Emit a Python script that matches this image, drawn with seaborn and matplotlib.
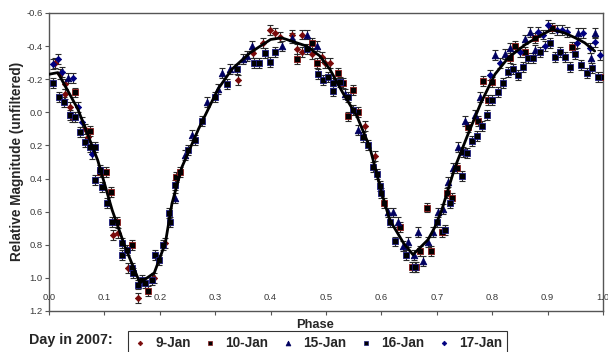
import numpy as np
import pandas as pd
import matplotlib
matplotlib.use("Agg")
import matplotlib.pyplot as plt
from matplotlib.lines import Line2D
import seaborn as sns

# ---------------- data (phase, relative magnitude) ----------------
jan09 = [(0.011, -0.30), (0.020, -0.23), (0.029, -0.17), (0.029, -0.11), (0.038, -0.03),
         (0.041, 0.03), (0.065, 0.10), (0.070, 0.15), (0.116, 0.74), (0.125, 0.73),
         (0.143, 0.94), (0.160, 1.12), (0.190, 1.00), (0.209, 0.79), (0.341, -0.195),
         (0.368, -0.36), (0.386, -0.42), (0.399, -0.50), (0.408, -0.48), (0.417, -0.455),
         (0.438, -0.47), (0.448, -0.38), (0.457, -0.47), (0.457, -0.365), (0.475, -0.35),
         (0.493, -0.335), (0.498, -0.30), (0.507, -0.30), (0.570, 0.085), (0.588, 0.265)]

jan10 = [(0.047, -0.12), (0.074, 0.115), (0.092, 0.36), (0.103, 0.36), (0.112, 0.48),
         (0.123, 0.66), (0.150, 0.80), (0.179, 1.08), (0.229, 0.39), (0.236, 0.36),
         (0.448, -0.32), (0.475, -0.42), (0.484, -0.30), (0.522, -0.24), (0.531, -0.18),
         (0.540, 0.025), (0.549, -0.135), (0.558, 0.00), (0.605, 0.545), (0.634, 0.69),
         (0.655, 0.935), (0.662, 0.935), (0.670, 0.84), (0.682, 0.575), (0.690, 0.84),
         (0.709, 0.72), (0.718, 0.485), (0.727, 0.515), (0.736, 0.335), (0.756, 0.09),
         (0.775, 0.055), (0.784, -0.19), (0.793, -0.075), (0.800, -0.185), (0.832, -0.33),
         (0.841, -0.40), (0.860, -0.365), (0.877, -0.45), (0.908, -0.51), (0.944, -0.395),
         (1.000, -0.215)]

jan15 = [(0.034, -0.21), (0.227, 0.52), (0.245, 0.255), (0.258, 0.135), (0.285, -0.06),
         (0.305, -0.14), (0.312, -0.24), (0.327, -0.26), (0.350, -0.32), (0.357, -0.34),
         (0.366, -0.40), (0.420, -0.40), (0.438, -0.45), (0.466, -0.47), (0.484, -0.40),
         (0.534, -0.11), (0.558, 0.105), (0.612, 0.605), (0.621, 0.605), (0.630, 0.665),
         (0.639, 0.81), (0.648, 0.785), (0.659, 0.86), (0.666, 0.725), (0.675, 0.90),
         (0.684, 0.785), (0.693, 0.72), (0.702, 0.605), (0.711, 0.585), (0.720, 0.42),
         (0.729, 0.335), (0.738, 0.21), (0.751, 0.055), (0.769, 0.015), (0.778, -0.095),
         (0.805, -0.345), (0.823, -0.355), (0.832, -0.39), (0.860, -0.44), (0.868, -0.485),
         (0.877, -0.375), (0.955, -0.48), (0.978, -0.33), (0.986, -0.48)]

jan16 = [(0.007, -0.18), (0.018, -0.09), (0.027, -0.06), (0.038, 0.015), (0.047, 0.03),
         (0.056, 0.12), (0.065, 0.18), (0.074, 0.21), (0.083, 0.21), (0.083, 0.41),
         (0.092, 0.35), (0.096, 0.45), (0.105, 0.55), (0.114, 0.66), (0.132, 0.79),
         (0.132, 0.86), (0.141, 0.83), (0.150, 0.94), (0.152, 0.97), (0.160, 1.04),
         (0.168, 1.01), (0.173, 1.03), (0.186, 1.01), (0.191, 0.86), (0.199, 0.89),
         (0.206, 0.80), (0.217, 0.61), (0.218, 0.66), (0.227, 0.44), (0.251, 0.225),
         (0.264, 0.165), (0.276, 0.055), (0.300, -0.095), (0.321, -0.17), (0.339, -0.26),
         (0.370, -0.30), (0.379, -0.30), (0.390, -0.36), (0.399, -0.305), (0.408, -0.365),
         (0.466, -0.38), (0.486, -0.23), (0.495, -0.195), (0.504, -0.215), (0.513, -0.18),
         (0.513, -0.13), (0.525, -0.185), (0.540, -0.095), (0.549, -0.015), (0.567, 0.15),
         (0.576, 0.195), (0.585, 0.33), (0.592, 0.375), (0.597, 0.445), (0.600, 0.485),
         (0.615, 0.66), (0.625, 0.78), (0.644, 0.86), (0.661, 0.935), (0.700, 0.665),
         (0.715, 0.71), (0.724, 0.545), (0.745, 0.385), (0.747, 0.24), (0.754, 0.245),
         (0.764, 0.175), (0.773, 0.145), (0.782, 0.085), (0.790, 0.015), (0.800, -0.075),
         (0.810, -0.125), (0.820, -0.18), (0.829, -0.245), (0.838, -0.26), (0.847, -0.225),
         (0.856, -0.275), (0.865, -0.33), (0.874, -0.33), (0.886, -0.365), (0.904, -0.42),
         (0.913, -0.335), (0.922, -0.365), (0.931, -0.335), (0.940, -0.275), (0.949, -0.35),
         (0.960, -0.285), (0.971, -0.24), (0.980, -0.27), (0.991, -0.215)]

jan17 = [(0.007, -0.29), (0.016, -0.32), (0.023, -0.245), (0.043, -0.21), (0.052, -0.03),
         (0.060, 0.06), (0.078, 0.25), (0.796, -0.225), (0.814, -0.30), (0.850, -0.365),
         (0.883, -0.485), (0.892, -0.47), (0.895, -0.40), (0.900, -0.53), (0.917, -0.50),
         (0.926, -0.50), (0.935, -0.485), (0.953, -0.42), (0.964, -0.48), (0.977, -0.39),
         (0.986, -0.425), (0.995, -0.345)]

fit_phase = [0.000, 0.016, 0.052, 0.088, 0.114, 0.137, 0.164, 0.190, 0.210, 0.222,
             0.240, 0.270, 0.305, 0.330, 0.363, 0.400, 0.420, 0.465, 0.489, 0.507,
             0.530, 0.556, 0.579, 0.600, 0.615, 0.640, 0.657, 0.684, 0.697, 0.709,
             0.720, 0.733, 0.756, 0.780, 0.805, 0.829, 0.860, 0.890, 0.908, 0.930,
             0.950, 0.967, 0.985]
fit_mag = [-0.23, -0.24, -0.02, 0.29, 0.59, 0.81, 1.03, 0.97, 0.79, 0.55,
           0.33, 0.10, -0.14, -0.26, -0.36, -0.44, -0.45, -0.40, -0.34, -0.26,
           -0.12, 0.025, 0.21, 0.48, 0.65, 0.79, 0.86, 0.77, 0.69, 0.59,
           0.47, 0.33, 0.135, -0.06, -0.23, -0.33, -0.41, -0.47, -0.50, -0.48,
           -0.45, -0.42, -0.37]

series_names = ["9-Jan", "10-Jan", "15-Jan", "16-Jan", "17-Jan"]
series_data = [jan09, jan10, jan15, jan16, jan17]
error_bar = 0.03
x_ticks = [0.0, 0.1, 0.2, 0.3, 0.4, 0.5, 0.6, 0.7, 0.8, 0.9, 1.0]
y_ticks = [-0.6, -0.4, -0.2, 0.0, 0.2, 0.4, 0.6, 0.8, 1.0, 1.2]

# ---------------- styles ----------------
styles = {
    "9-Jan":  dict(marker="D", s=10, color="#7a0a0a", ec="#7a0a0a"),
    "10-Jan": dict(marker="s", s=20, color="#000000", ec="#8b1a1a"),
    "15-Jan": dict(marker="^", s=22, color="#000060", ec="#000060"),
    "16-Jan": dict(marker="s", s=20, color="#000000", ec="#1c1c80"),
    "17-Jan": dict(marker="D", s=10, color="#000080", ec="#000080"),
}

sns.set_theme(style="white")
plt.rcParams["font.family"] = ["Liberation Sans", "DejaVu Sans"]

fig = plt.figure(figsize=(6.08, 3.52), dpi=100)
ax = fig.add_axes([49 / 608, 1 - 311 / 352, 554 / 608, 298 / 352])

frames = []
for name, data in zip(series_names, series_data):
    df = pd.DataFrame(data, columns=["phase", "mag"])
    df["day"] = name
    frames.append(df)
allpts = pd.concat(frames, ignore_index=True)

for name in series_names:
    d = allpts[allpts["day"] == name]
    ax.errorbar(d["phase"], d["mag"], yerr=error_bar, fmt="none",
                ecolor="#2a2a2a", elinewidth=0.8, capsize=2.4, capthick=0.8, zorder=2)

for name in series_names:
    d = allpts[allpts["day"] == name]
    st = styles[name]
    sns.scatterplot(data=d, x="phase", y="mag", marker=st["marker"], s=st["s"],
                    color=st["color"], edgecolor=st["ec"], linewidth=0.6,
                    ax=ax, zorder=3, legend=False)

fit = pd.DataFrame({"phase": fit_phase, "mag": fit_mag})
sns.lineplot(data=fit, x="phase", y="mag", color="black", linewidth=2.0,
             sort=False, estimator=None, ax=ax, zorder=4)

ax.set_xlim(0, 1.0)
ax.set_ylim(1.2, -0.6)
ax.set_xticks(x_ticks)
ax.set_yticks(y_ticks)
ax.set_xticklabels([f"{v:.1f}" for v in x_ticks])
ax.set_yticklabels([f"{v:.1f}" for v in y_ticks])
ax.set_xlabel("")
ax.set_ylabel("")
ax.tick_params(axis="x", direction="out", length=3, width=0.8, pad=-16,
               labelsize=6.8, labelcolor="#3a3a3a", color="#555555", bottom=True)
ax.tick_params(axis="y", direction="out", length=3, width=0.8, pad=1.5,
               labelsize=6.8, labelcolor="#3a3a3a", color="#555555", left=True)
for sp in ax.spines.values():
    sp.set_color("#555555")
    sp.set_linewidth(1.0)
ax.grid(False)

fig.text(17 / 608, 1 - 161 / 352, "Relative Magnitude (unfiltered)", rotation=90,
         ha="center", va="center", fontsize=9.8, fontweight="bold")
fig.text(315 / 608, 1 - 325 / 352, "Phase", ha="center", va="center",
         fontsize=9.3, fontweight="bold")
fig.text(29 / 608, 1 - 340 / 352, "Day in 2007:", ha="left", va="center",
         fontsize=10.3, fontweight="bold")

handles = []
for name in series_names:
    st = styles[name]
    handles.append(Line2D([], [], linestyle="none", marker=st["marker"],
                          markersize=np.sqrt(st["s"]) * 0.75, markerfacecolor=st["color"],
                          markeredgecolor=st["ec"], markeredgewidth=0.5))
leg = fig.legend(handles, series_names, loc="upper left",
                 bbox_to_anchor=(128 / 608, 1 - 331 / 352), borderaxespad=0.0,
                 ncol=5, frameon=True, fancybox=False, edgecolor="black",
                 handlelength=1.0, handletextpad=0.6, columnspacing=0.95,
                 borderpad=0.4, prop=dict(size=9.8, weight="bold"))
leg.get_frame().set_linewidth(0.8)

fig.savefig("out.png", dpi=100)
